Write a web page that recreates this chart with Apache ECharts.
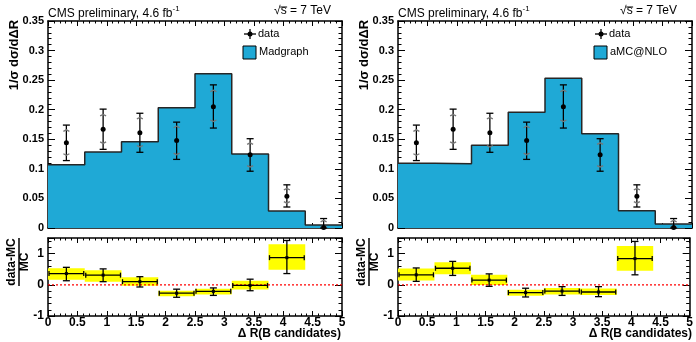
<!DOCTYPE html>
<html><head><meta charset="utf-8">
<script src="https://cdn.jsdelivr.net/npm/echarts@6/dist/echarts.min.js"></script>
<style>html,body{margin:0;padding:0;background:#fff}#c{width:696px;height:342px}</style>
</head><body><div id="c"></div>
<script>
// ---------------- data ----------------
const binEdges = [0, 0.625, 1.25, 1.875, 2.5, 3.125, 3.75, 4.375, 5];
const madgraph = [0.107, 0.1285, 0.146, 0.2035, 0.261, 0.125, 0.0287, 0.005];
const amcnlo   = [0.1093, 0.1088, 0.1398, 0.1956, 0.253, 0.1595, 0.0293, 0.0068];
const dataVal    = [0.144, 0.167, 0.161, 0.148, 0.205, 0.124, 0.0535, 0.001];
const dataTotLo  = [0.114, 0.133, 0.128, 0.116, 0.169, 0.096, 0.0355, 0.0];
const dataTotHi  = [0.174, 0.201, 0.194, 0.179, 0.242, 0.151, 0.073, 0.016];
const dataStatLo = [0.123, 0.143, 0.137, 0.124, 0.180, 0.103, 0.042, 0.0];
const dataStatHi = [0.166, 0.192, 0.187, 0.172, 0.233, 0.144, 0.067, 0.013];
// ratio (data-MC)/MC, Madgraph
const rMgVal   = [0.36, 0.31, 0.10, -0.27, -0.21, -0.02, 0.87];
const rMgBoxLo = [0.16, 0.10, -0.03, -0.37, -0.31, -0.15, 0.48];
const rMgBoxHi = [0.53, 0.47, 0.24, -0.19, -0.13, 0.13, 1.30];
const rMgErrLo = [0.13, 0.10, -0.07, -0.40, -0.34, -0.19, 0.36];
const rMgErrHi = [0.56, 0.51, 0.26, -0.14, -0.10, 0.18, 1.42];
// ratio (data-MC)/MC, aMC@NLO
const rNloVal   = [0.32, 0.53, 0.15, -0.25, -0.20, -0.23, 0.84];
const rNloBoxLo = [0.14, 0.34, -0.01, -0.35, -0.31, -0.33, 0.45];
const rNloBoxHi = [0.52, 0.72, 0.32, -0.16, -0.10, -0.12, 1.24];
const rNloErrLo = [0.11, 0.30, -0.05, -0.39, -0.34, -0.38, 0.32];
const rNloErrHi = [0.54, 0.75, 0.35, -0.11, -0.06, -0.06, 1.39];
const legendLabels = ['data', 'Madgraph', 'aMC@NLO'];
const headerLeft = 'CMS preliminary, 4.6 fb';
const headerRight = '√s = 7 TeV';
const xTitle = 'Δ R(B candidates)';
const yTitleTop = '1/σ dσ/dΔR';

// ---------------- style ----------------
const FONT = '"Liberation Sans", Arial, Helvetica, sans-serif';
const BLUE = '#1fa9d6';
const centers = binEdges.slice(0, -1).map((e, i) => (e + binEdges[i + 1]) / 2);

function stepPoints(vals) {
  const pts = [];
  vals.forEach((v, i) => { pts.push([binEdges[i], v]); pts.push([binEdges[i + 1], v]); });
  return pts;
}

const mctx = document.createElement('canvas').getContext('2d');
function textW(t, font) { mctx.font = font; return mctx.measureText(t).width; }

const grids = [
  {left: 48, top: 21, width: 294, height: 207},
  {left: 48, top: 238, width: 294, height: 78},
  {left: 398, top: 21, width: 294, height: 207},
  {left: 398, top: 238, width: 294, height: 78}
];

const xAxes = [], yAxes = [];
grids.forEach((g, gi) => {
  const ratio = gi % 2 === 1;
  ['bottom', 'top'].forEach(pos => {
    xAxes.push({
      type: 'value', gridIndex: gi, position: pos, min: 0, max: 5, interval: 0.5,
      axisLine: {show: true, onZero: false, lineStyle: {color: '#000', width: 1.5}},
      axisTick: {show: true, inside: true, length: 5, lineStyle: {color: '#000', width: 1}},
      minorTick: {show: true, splitNumber: 5, length: 2.5, lineStyle: {color: '#000', width: 1}},
      axisLabel: {show: ratio && pos === 'bottom', color: '#000', fontFamily: FONT, fontWeight: 'bold', fontSize: 12, margin: 1},
      splitLine: {show: false}, minorSplitLine: {show: false}
    });
  });
  ['left', 'right'].forEach(pos => {
    yAxes.push({
      type: 'value', gridIndex: gi, position: pos,
      min: ratio ? -1 : 0, max: ratio ? 1.5 : 0.35, interval: ratio ? 1 : 0.05,
      axisLine: {show: true, onZero: false, lineStyle: {color: '#000', width: 1.5}},
      axisTick: {show: true, inside: true, length: 7, lineStyle: {color: '#000', width: 1}},
      minorTick: {show: true, splitNumber: 5, length: 3.5, lineStyle: {color: '#000', width: 1}},
      axisLabel: {show: pos === 'left', color: '#000', fontFamily: FONT, fontWeight: 'bold',
                  fontSize: ratio ? 12 : 11, margin: 4, showMaxLabel: !ratio},
      splitLine: {show: false}, minorSplitLine: {show: false}
    });
  });
});

function histSeries(gi, vals) {
  return {
    type: 'line', xAxisIndex: gi * 2, yAxisIndex: gi * 2, data: stepPoints(vals),
    symbol: 'none', z: 1, silent: true,
    lineStyle: {color: '#262626', width: 1.5},
    areaStyle: {color: BLUE, opacity: 1, origin: 'start'}
  };
}

function dataSeries(gi) {
  return {
    type: 'custom', xAxisIndex: gi * 2, yAxisIndex: gi * 2, z: 5, clip: false,
    data: dataVal.map((v, i) => [centers[i], v, dataTotLo[i], dataTotHi[i], dataStatLo[i], dataStatHi[i]]),
    encode: {x: 0, y: 1},
    renderItem: function (params, api) {
      const x = api.value(0);
      const p = api.coord([x, api.value(1)]);
      const oLo = api.coord([x, api.value(2)]), oHi = api.coord([x, api.value(3)]);
      const sLo = api.coord([x, api.value(4)]), sHi = api.coord([x, api.value(5)]);
      const blk = {stroke: '#000', lineWidth: 1.3};
      const gry = {stroke: '#777', lineWidth: 1.3};
      const ch = [
        {type: 'line', shape: {x1: p[0], y1: oLo[1], x2: p[0], y2: oHi[1]}, style: blk},
        {type: 'line', shape: {x1: p[0] - 3.5, y1: oHi[1], x2: p[0] + 3.5, y2: oHi[1]}, style: blk},
        {type: 'line', shape: {x1: p[0] - 3.5, y1: oLo[1], x2: p[0] + 3.5, y2: oLo[1]}, style: blk},
        {type: 'polyline', shape: {points: [[p[0] - 3, sHi[1] + 1.5], [p[0], sHi[1]], [p[0] + 3, sHi[1] + 1.5]]}, style: Object.assign({fill: 'none'}, gry)},
        {type: 'polyline', shape: {points: [[p[0] - 3, sLo[1] - 1.5], [p[0], sLo[1]], [p[0] + 3, sLo[1] - 1.5]]}, style: Object.assign({fill: 'none'}, gry)},
        {type: 'circle', shape: {cx: p[0], cy: p[1], r: 2.5}, style: {fill: '#000'}}
      ];
      return {type: 'group', children: ch};
    }
  };
}

function boxSeries(gi, lo, hi) {
  return {
    type: 'custom', xAxisIndex: gi * 2, yAxisIndex: gi * 2, z: 1,
    data: lo.map((l, i) => [binEdges[i], binEdges[i + 1], l, hi[i]]),
    encode: {x: [0, 1], y: [2, 3]},
    renderItem: function (params, api) {
      const a = api.coord([api.value(0), api.value(3)]);
      const b = api.coord([api.value(1), api.value(2)]);
      return {type: 'rect', shape: {x: a[0], y: a[1], width: b[0] - a[0], height: b[1] - a[1]}, style: {fill: '#ffff00'}};
    }
  };
}

function zeroLine(gi) {
  return {
    type: 'line', xAxisIndex: gi * 2, yAxisIndex: gi * 2, data: [[0, 0], [5, 0]], symbol: 'none', z: 2,
    lineStyle: {color: '#ff0000', width: 1.3, type: [2, 2]}
  };
}

function ratioSeries(gi, val, lo, hi) {
  return {
    type: 'custom', xAxisIndex: gi * 2, yAxisIndex: gi * 2, z: 5,
    data: val.map((v, i) => [binEdges[i], binEdges[i + 1], v, lo[i], hi[i]]),
    encode: {x: [0, 1], y: 2},
    renderItem: function (params, api) {
      const xc = (api.value(0) + api.value(1)) / 2;
      const L = api.coord([api.value(0), api.value(2)]);
      const R = api.coord([api.value(1), api.value(2)]);
      const p = api.coord([xc, api.value(2)]);
      const lo = api.coord([xc, api.value(3)]), hi = api.coord([xc, api.value(4)]);
      const blk = {stroke: '#000', lineWidth: 1.3};
      return {type: 'group', children: [
        {type: 'line', shape: {x1: L[0] + 1, y1: p[1], x2: R[0] - 1, y2: p[1]}, style: blk},
        {type: 'line', shape: {x1: L[0] + 1, y1: p[1] - 2.5, x2: L[0] + 1, y2: p[1] + 2.5}, style: blk},
        {type: 'line', shape: {x1: R[0] - 1, y1: p[1] - 2.5, x2: R[0] - 1, y2: p[1] + 2.5}, style: blk},
        {type: 'line', shape: {x1: p[0], y1: lo[1], x2: p[0], y2: hi[1]}, style: blk},
        {type: 'line', shape: {x1: p[0] - 3.5, y1: lo[1], x2: p[0] + 3.5, y2: lo[1]}, style: blk},
        {type: 'line', shape: {x1: p[0] - 3.5, y1: hi[1], x2: p[0] + 3.5, y2: hi[1]}, style: blk},
        {type: 'rect', shape: {x: p[0] - 1.5, y: p[1] - 1.5, width: 3, height: 3}, style: {fill: '#000'}}
      ]};
    }
  };
}

function panelGraphics(ox, mcLabel, legX) {
  const g = [];
  g.push({type: 'text', left: ox + 48, top: 5, z: 10, style: {
    text: '{a|' + headerLeft + '}{s|-1}', fill: '#000',
    rich: {a: {fontSize: 12, fontFamily: FONT, fill: '#000', verticalAlign: 'bottom', lineHeight: 15},
           s: {fontSize: 8, fontFamily: FONT, fill: '#000', verticalAlign: 'top', lineHeight: 15}}}});
  const rEdge = ox + (ox ? 327 : 331);
  const f12 = '12px ' + FONT;
  const w = textW(headerRight, f12), wr = textW('√', f12), ws = textW('s', f12);
  g.push({type: 'text', right: 696 - rEdge, top: 5, z: 10, style: {
    text: headerRight, fontSize: 12, fontFamily: FONT, fill: '#000'}});
  const sx = rEdge - w + wr;
  g.push({type: 'line', z: 10, shape: {x1: sx - 0.5, y1: 7, x2: sx + ws + 0.5, y2: 7}, style: {stroke: '#000', lineWidth: 1}});
  // y titles
  g.push({type: 'text', x: ox + 14, y: 55, rotation: Math.PI / 2, z: 10, style: {
    text: yTitleTop, fontSize: 13, fontWeight: 'bold', fontFamily: FONT, fill: '#000', align: 'center', verticalAlign: 'middle'}});
  g.push({type: 'text', x: ox + 12, y: 262, rotation: Math.PI / 2, z: 10, style: {
    text: 'data-MC', fontSize: 12, fontWeight: 'bold', fontFamily: FONT, fill: '#000', align: 'center', verticalAlign: 'middle'}});
  g.push({type: 'line', z: 10, shape: {x1: ox + 19, y1: 238, x2: ox + 19, y2: 286}, style: {stroke: '#000', lineWidth: 1.5}});
  g.push({type: 'text', x: ox + 25, y: 262, rotation: Math.PI / 2, z: 10, style: {
    text: 'MC', fontSize: 12, fontWeight: 'bold', fontFamily: FONT, fill: '#000', align: 'center', verticalAlign: 'middle'}});
  // x title
  g.push({type: 'text', right: 696 - (ox + (ox ? 342 : 341)), top: 328, z: 10, style: {
    text: xTitle, fontSize: 12, fontWeight: 'bold', fontFamily: FONT, fill: '#000'}});
  // legend
  const cx = legX + 7;
  g.push({type: 'line', z: 10, shape: {x1: cx - 6, y1: 34, x2: cx + 6, y2: 34}, style: {stroke: '#000', lineWidth: 1.3}});
  g.push({type: 'line', z: 10, shape: {x1: cx, y1: 29, x2: cx, y2: 39}, style: {stroke: '#000', lineWidth: 1.3}});
  g.push({type: 'circle', z: 10, shape: {cx: cx, cy: 34, r: 2.5}, style: {fill: '#000'}});
  g.push({type: 'text', left: legX + 15, top: 28, z: 10, style: {text: legendLabels[0], fontSize: 11, fontFamily: FONT, fill: '#000'}});
  g.push({type: 'rect', z: 10, shape: {x: legX, y: 46, width: 13, height: 13}, style: {fill: BLUE, stroke: '#000', lineWidth: 1}});
  g.push({type: 'text', left: legX + 16, top: 46, z: 10, style: {text: mcLabel, fontSize: 11, fontFamily: FONT, fill: '#000'}});
  return g;
}

const chart = echarts.init(document.getElementById('c'), null, {renderer: 'canvas'});
chart.setOption({
  animation: false,
  backgroundColor: '#fff',
  grid: grids,
  xAxis: xAxes,
  yAxis: yAxes,
  series: [
    histSeries(0, madgraph), dataSeries(0),
    boxSeries(1, rMgBoxLo, rMgBoxHi), zeroLine(1), ratioSeries(1, rMgVal, rMgErrLo, rMgErrHi),
    histSeries(2, amcnlo), dataSeries(2),
    boxSeries(3, rNloBoxLo, rNloBoxHi), zeroLine(3), ratioSeries(3, rNloVal, rNloErrLo, rNloErrHi)
  ],
  graphic: panelGraphics(0, legendLabels[1], 243).concat(panelGraphics(350, legendLabels[2], 594))
});
</script></body></html>
